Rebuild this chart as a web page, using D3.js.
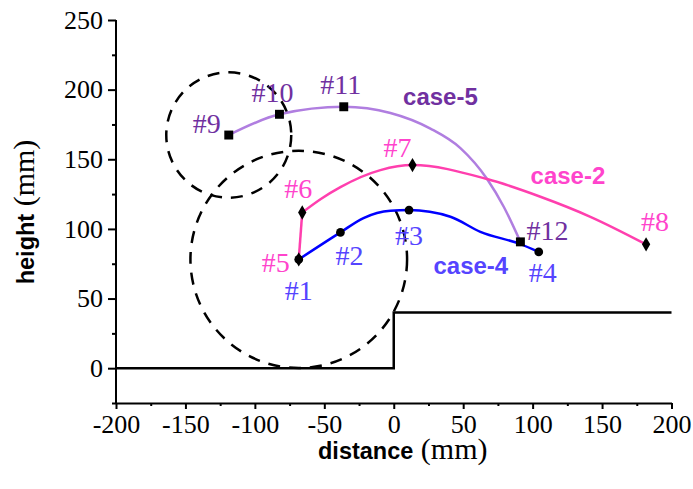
<!DOCTYPE html>
<meta charset="utf-8">
<head>
<title>trajectories</title>
<script src="https://cdn.jsdelivr.net/npm/d3@7"></script>
<style>
body {margin: 0; background: #fff;}
.axis path, .axis line {stroke: #000; stroke-width: 2;}
</style>
</head>
<body>
<script>
// data (mm)
var xTicks = [-200, -150, -100, -50, 0, 50, 100, 150, 200];
var yTicks = [0, 50, 100, 150, 200, 250];

// case-4 : #1 .. #4
var case4Path = [[-68.4, 78.1], [-38.4, 97.5], [-21.8, 107.8], [-2.4, 113], [11, 113.5],
                 [40.8, 108.7], [62.4, 97.9], [91.2, 89.1], [104.4, 83.5]];
var case4Pts  = [[-68.4, 78.1], [-38.4, 97.5], [11, 113.5], [104.4, 83.5]];
var case4Names = ["#1", "#2", "#3", "#4"];

// case-2 : #5 .. #8 (#5 -> #6 is a straight rise)
var case2Path = [[-65.9, 111.8], [-52.5, 121.5], [-38.4, 130], [-9.6, 142.2], [13.5, 145.8],
                 [67.2, 135.8], [105.6, 123.1], [141.6, 108.7], [181.7, 88.9]];
var case2Lead = [[-68.4, 78.1], [-65.9, 111.8]];
var case2Pts  = [[-68.4, 78.1], [-65.9, 111.8], [13.5, 145.8], [181.7, 88.9]];
var case2Names = ["#5", "#6", "#7", "#8"];

// case-5 : #9 .. #12
var case5Path = [[-118.8, 167.4], [-82.3, 182.3], [-36, 187.7], [-2.4, 183.2], [26.4, 172],
                 [48, 158], [67.2, 135.8], [79.2, 115.9], [91.2, 90.7]];
var case5Pts  = [[-118.8, 167.4], [-82.3, 182.3], [-36, 187.7], [91.2, 90.7]];
var case5Names = ["#9", "#10", "#11", "#12"];

// step obstacle and reach circles
var stepLine = [[-200, 0], [0, 0], [0, 40], [200, 40]];
var circles = [[-118.8, 167.4, 45], [-68.4, 78.1, 78]];

var caseNames = ["case-5", "case-2", "case-4"];
var caseAt = [[33.6, 189], [125.4, 132.6], [55.5, 67.5]];

// layout
var width = 693, height = 489;
var serif = "'Liberation Serif', 'DejaVu Serif', serif";
var sans = "'Liberation Sans', Arial, sans-serif";
var x = d3.scaleLinear().domain([-200, 200]).range([116, 671.5]);
var y = d3.scaleLinear().domain([-25, 250]).range([403, 20]);

var svg = d3.select("body").append("svg")
  .attr("width", width)
  .attr("height", height);

// axes: minor then major
var minorX = d3.range(-175, 200, 50), minorY = d3.range(-25, 250, 50);
svg.append("g").attr("class", "axis")
  .attr("transform", "translate(0," + y(-25) + ")")
  .call(d3.axisBottom(x).tickValues(minorX).tickSize(3).tickFormat(""))
  .select(".domain").remove();
svg.append("g").attr("class", "axis")
  .attr("transform", "translate(" + x(-200) + ",0)")
  .call(d3.axisLeft(y).tickValues(minorY).tickSize(4).tickFormat(""))
  .select(".domain").remove();

var gx = svg.append("g").attr("class", "axis")
  .attr("transform", "translate(0," + y(-25) + ")")
  .call(d3.axisBottom(x).tickValues(xTicks).tickSize(6).tickSizeOuter(0)
    .tickPadding(8).tickFormat(d => String(d)));
var gy = svg.append("g").attr("class", "axis")
  .attr("transform", "translate(" + x(-200) + ",0)")
  .call(d3.axisLeft(y).tickValues(yTicks).tickSize(8).tickSizeOuter(0)
    .tickPadding(5).tickFormat(d => String(d)));
svg.selectAll(".axis").attr("font-family", serif).attr("font-size", 26);
svg.selectAll(".axis text").attr("fill", "#000");
gx.selectAll("text").attr("dy", "0.6em");
gy.select(".domain").attr("d", "M0," + (y(-25) + 1) + "V" + y(250));

// titles
svg.append("text")
  .attr("x", 318).attr("y", 459)
  .call(function(t) {
    t.append("tspan").text("distance").attr("font-family", sans).attr("font-weight", "bold").attr("font-size", 23.5);
    t.append("tspan").text(" (mm)").attr("font-family", serif).attr("font-size", 30);
  });
svg.append("text")
  .attr("transform", "translate(34," + 212 + ") rotate(-90)")
  .attr("text-anchor", "middle")
  .call(function(t) {
    t.append("tspan").text("height").attr("font-family", sans).attr("font-weight", "bold").attr("font-size", 23.5);
    t.append("tspan").text(" (mm)").attr("font-family", serif).attr("font-size", 30);
  });

// step
var line = d3.line().x(d => x(d[0])).y(d => y(d[1]));
svg.append("path")
  .attr("d", line(stepLine))
  .attr("fill", "none").attr("stroke", "#000").attr("stroke-width", 2.5);

// dashed circles
svg.selectAll(".reach").data(circles).enter().append("ellipse")
  .attr("class", "reach")
  .attr("cx", d => x(d[0])).attr("cy", d => y(d[1]))
  .attr("rx", d => x(d[2]) - x(0)).attr("ry", d => y(0) - y(d[2]))
  .attr("fill", "none").attr("stroke", "#000")
  .attr("stroke-width", 2.5).attr("stroke-dasharray", "12,9");

// curves
var curve = d3.line().x(d => x(d[0])).y(d => y(d[1])).curve(d3.curveMonotoneX);
var series = [
  {paths: [case5Path], pts: case5Pts, names: case5Names, line: "#b07ee0", text: "#7030a0", sym: d3.symbolSquare, size: 80,
   off: [[-22, -2], [-7, -12], [-3, -13], [27, -2]]},
  {paths: [case2Lead, case2Path], pts: case2Pts, names: case2Names, line: "#ff3fae", text: "#ff44cc", sym: d3.symbolDiamond, size: 60,
   off: [[-23, 13], [-4, -14], [-15, -8], [9, -13]]},
  {paths: [case4Path], pts: case4Pts, names: case4Names, line: "#0000ff", text: "#5544ff", sym: d3.symbolCircle, size: 60,
   off: [[0, 41], [9, 33], [0, 35], [4, 30]]}
];

series.forEach(function(s) {
  s.paths.forEach(function(p) {
    svg.append("path")
      .attr("d", p.length > 2 ? curve(p) : line(p))
      .attr("fill", "none").attr("stroke", s.line).attr("stroke-width", 2.5)
      .attr("stroke-linejoin", "round");
  });
});

series.forEach(function(s) {
  svg.selectAll(null).data(s.pts).enter().append("path")
    .attr("transform", d => "translate(" + x(d[0]) + "," + y(d[1]) + ")")
    .attr("d", d3.symbol().type(s.sym).size(s.size))
    .attr("fill", "#000");
  svg.selectAll(null).data(s.pts).enter().append("text")
    .attr("x", (d, i) => x(d[0]) + s.off[i][0])
    .attr("y", (d, i) => y(d[1]) + s.off[i][1])
    .attr("text-anchor", "middle")
    .attr("font-family", serif).attr("font-size", 28)
    .attr("fill", s.text)
    .text((d, i) => s.names[i]);
});

// case labels
svg.selectAll(".case").data(caseNames).enter().append("text")
  .attr("class", "case")
  .attr("x", (d, i) => x(caseAt[i][0]))
  .attr("y", (d, i) => y(caseAt[i][1]))
  .attr("text-anchor", "middle")
  .attr("font-family", sans).attr("font-weight", "bold").attr("font-size", 24)
  .attr("fill", (d, i) => series[i].text)
  .text(d => d);
</script>
</body>
